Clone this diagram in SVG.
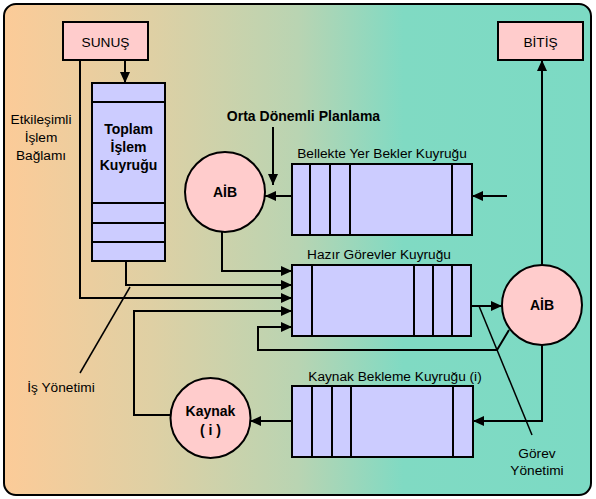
<svg xmlns="http://www.w3.org/2000/svg" width="596" height="499" viewBox="0 0 596 499">
<defs>
<linearGradient id="bg" x1="0" y1="0" x2="1" y2="0">
<stop offset="0" stop-color="#FCCB98"/>
<stop offset="0.25" stop-color="#DFD0A4"/>
<stop offset="0.5" stop-color="#B9D4B2"/>
<stop offset="0.68" stop-color="#80DAC3"/>
<stop offset="1" stop-color="#7CDAC4"/>
</linearGradient>
<marker id="ah" markerUnits="userSpaceOnUse" markerWidth="12" markerHeight="10" refX="11" refY="5" orient="auto">
<path d="M0,0 L11,5 L0,10 z" fill="#000"/>
</marker>
<style>
.box{fill:#FFCCCC;stroke:#000;stroke-width:2}
.q{fill:#CCCCFF;stroke:#000;stroke-width:2}
.dv{stroke:#000;stroke-width:2}
.c{fill:#FFCCCC;stroke:#000;stroke-width:2}
.t{font-family:"Liberation Sans",Arial,sans-serif;font-size:13.7px;fill:#000}
.tb{font-family:"Liberation Sans",Arial,sans-serif;font-size:14px;font-weight:bold;fill:#000}
.ln{fill:none;stroke:#000;stroke-width:2}
.ar{fill:none;stroke:#000;stroke-width:2;marker-end:url(#ah)}
.ld{fill:none;stroke:#000;stroke-width:1.5}
</style>
</defs>
<rect x="4" y="4" width="587" height="491" rx="12" fill="url(#bg)" stroke="#000" stroke-width="2"/>

<g id="connectors">
<path class="ar" d="M125,60 V83"/>
<path class="ar" d="M273,127 V185"/>
<path class="ar" d="M292,196 H265"/>
<path class="ar" d="M507,196 H472"/>
<path class="ar" d="M222,232 V271 H292"/>
<path class="ar" d="M126,261 V285 H292"/>
<path class="ar" d="M80,60 V298 H292"/>
<path class="ar" d="M171,415 H134 V311 H292"/>
<path class="ar" d="M509,330 L497,350 H258 V327 H292"/>
<path class="ar" d="M471,306 H502"/>
<path class="ar" d="M542,265 V60"/>
<path class="ar" d="M542,345 V421 H473"/>
<path class="ar" d="M292,421 H250"/>
<path class="ld" d="M479,306 L532,435"/>
<path class="ld" d="M130,287 L80,373"/>
</g>

<g id="sunus">
<rect class="box" x="63" y="22" width="85" height="38"/>
<text class="t" x="105.5" y="47" text-anchor="middle" font-size="14">SUNUŞ</text>
</g>
<g id="bitis">
<rect class="box" x="498" y="22" width="85" height="38"/>
<text class="t" x="540.5" y="47" text-anchor="middle" font-size="14">BİTİŞ</text>
</g>

<g id="toplam">
<rect class="q" x="92" y="83" width="73" height="178"/>
<path class="dv" d="M92,102 H165 M92,203 H165 M92,223 H165 M92,242 H165"/>
<text class="tb" text-anchor="middle" x="128.5" y="134">Toplam</text>
<text class="tb" text-anchor="middle" x="128.5" y="152">İşlem</text>
<text class="tb" text-anchor="middle" x="128.5" y="170">Kuyruğu</text>
</g>

<g id="etkilesimli">
<text class="t" text-anchor="middle" x="41" y="124">Etkileşimli</text>
<text class="t" text-anchor="middle" x="41" y="142">İşlem</text>
<text class="t" text-anchor="middle" x="41" y="160">Bağlamı</text>
</g>

<g id="orta">
<text class="tb" text-anchor="middle" x="303.5" y="121">Orta Dönemli Planlama</text>
</g>

<g id="aib1">
<circle class="c" cx="225" cy="192" r="40"/>
<text class="tb" text-anchor="middle" x="225" y="197">AİB</text>
</g>

<g id="bellekte">
<text class="t" text-anchor="middle" x="382" y="158">Bellekte Yer Bekler Kuyruğu</text>
<rect class="q" x="292" y="164" width="180" height="71"/>
<path class="dv" d="M310,164 V235 M330,164 V235 M350,164 V235 M452,164 V235"/>
</g>

<g id="hazir">
<text class="t" text-anchor="middle" x="379" y="259">Hazır Görevler Kuyruğu</text>
<rect class="q" x="292" y="265" width="179" height="71"/>
<path class="dv" d="M312,265 V336 M414,265 V336 M433,265 V336 M452,265 V336"/>
</g>

<g id="aib2">
<circle class="c" cx="542" cy="305" r="40"/>
<text class="tb" text-anchor="middle" x="542" y="310">AİB</text>
</g>

<g id="kaynakbekleme">
<text class="t" text-anchor="middle" x="395" y="381">Kaynak Bekleme Kuyruğu (i)</text>
<rect class="q" x="292" y="386" width="181" height="71"/>
<path class="dv" d="M312,386 V457 M332,386 V457 M351,386 V457 M453,386 V457"/>
</g>

<g id="kaynak">
<circle class="c" cx="210.5" cy="418" r="40"/>
<text class="tb" text-anchor="middle" x="210.5" y="416">Kaynak</text>
<text class="tb" text-anchor="middle" x="210.5" y="435">( i )</text>
</g>

<g id="isyonetimi">
<text class="t" text-anchor="middle" x="61" y="392">İş Yönetimi</text>
</g>
<g id="gorevyonetimi">
<text class="t" text-anchor="middle" x="537" y="458">Görev</text>
<text class="t" text-anchor="middle" x="537" y="475">Yönetimi</text>
</g>
</svg>
